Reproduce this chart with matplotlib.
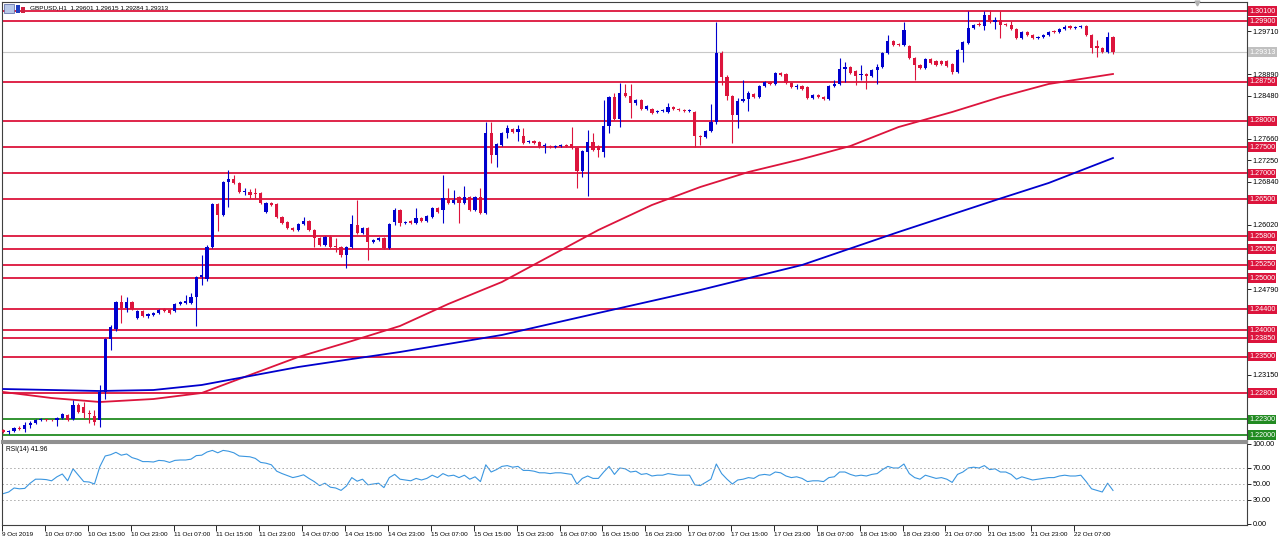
import numpy as np
import matplotlib.pyplot as plt
from matplotlib.transforms import blended_transform_factory

plt.rcParams['font.family'] = ['Liberation Sans', 'DejaVu Sans']

# GBPUSD H1, 9 Oct 23:00 .. 22 Oct 13:00 (server time)
opens = [
    1.2210, 1.2206, 1.2208, 1.2213, 1.2212, 1.2219, 1.2223, 1.2229, 1.2230, 1.2229,
    1.2228, 1.2232, 1.2239, 1.2231, 1.2257, 1.2254, 1.2242, 1.2236, 1.2229, 1.2282,
    1.2384, 1.2402, 1.2454, 1.2443, 1.2454, 1.2424, 1.2437, 1.2427, 1.2429, 1.2433,
    1.2441, 1.2439, 1.2437, 1.2450, 1.2452, 1.2452, 1.2464, 1.2502, 1.2498, 1.2559,
    1.2641, 1.2620, 1.2683, 1.2689, 1.2681, 1.2664, 1.2664, 1.2662, 1.2662, 1.2626,
    1.2643, 1.2641, 1.2617, 1.2607, 1.2595, 1.2592, 1.2603, 1.2609, 1.2592, 1.2576,
    1.2563, 1.2578, 1.2561, 1.2559, 1.2544, 1.2559, 1.2601, 1.2586, 1.2595, 1.2569,
    1.2573, 1.2576, 1.2557, 1.2607, 1.2630, 1.2605, 1.2609, 1.2605, 1.2615, 1.2609,
    1.2617, 1.2634, 1.2630, 1.2653, 1.2643, 1.2655, 1.2643, 1.2655, 1.2630, 1.2655,
    1.2624, 1.2777, 1.2735, 1.2754, 1.2777, 1.2785, 1.2779, 1.2771, 1.2760, 1.2762,
    1.2760, 1.2752, 1.2752, 1.2750, 1.2752, 1.2754, 1.2756, 1.2748, 1.2704, 1.2741,
    1.2760, 1.2752, 1.2741, 1.2790, 1.2846, 1.2804, 1.2853, 1.2848, 1.2834, 1.2840,
    1.2823, 1.2823, 1.2817, 1.2819, 1.2817, 1.2827, 1.2823, 1.2821, 1.2819, 1.2817,
    1.2771, 1.2769, 1.2781, 1.2798, 1.2930, 1.2884, 1.2848, 1.2811, 1.2838, 1.2842,
    1.2851, 1.2846, 1.2867, 1.2874, 1.2871, 1.2892, 1.2890, 1.2872, 1.2865, 1.2867,
    1.2865, 1.2844, 1.2849, 1.2846, 1.2842, 1.2867, 1.2871, 1.2900, 1.2903, 1.2895,
    1.2888, 1.2890, 1.2886, 1.2897, 1.2903, 1.2930, 1.2953, 1.2947, 1.2945, 1.2943,
    1.2920, 1.2907, 1.2901, 1.2918, 1.2915, 1.2915, 1.2915, 1.2909, 1.2893, 1.2936,
    1.2949, 1.2978, 1.2985, 1.2981, 1.3002, 1.2989, 1.2993, 1.2985, 1.2983, 1.2976,
    1.2958, 1.2970, 1.2964, 1.2958, 1.2960, 1.2964, 1.2972, 1.2970, 1.2976, 1.2981,
    1.2978, 1.2979, 1.2981, 1.2964, 1.2943, 1.2939, 1.2932, 1.29601]
highs = [
    1.2212, 1.2210, 1.2215, 1.2217, 1.2225, 1.2227, 1.2231, 1.2232, 1.2231, 1.2230,
    1.2235, 1.2243, 1.2241, 1.2267, 1.2261, 1.2263, 1.2248, 1.2248, 1.2296, 1.2386,
    1.2411, 1.2456, 1.2468, 1.2464, 1.2456, 1.2438, 1.2439, 1.2434, 1.2435, 1.2441,
    1.2443, 1.2441, 1.2452, 1.2456, 1.2467, 1.2471, 1.2504, 1.2544, 1.2563, 1.2643,
    1.2643, 1.2685, 1.2706, 1.2697, 1.2683, 1.2672, 1.2670, 1.2672, 1.2664, 1.2645,
    1.2645, 1.2643, 1.2619, 1.2609, 1.2597, 1.2605, 1.2617, 1.2611, 1.2594, 1.2578,
    1.2580, 1.2582, 1.2576, 1.2561, 1.2561, 1.2620, 1.2649, 1.2597, 1.2597, 1.2575,
    1.2578, 1.2578, 1.2605, 1.2634, 1.2632, 1.2609, 1.2611, 1.2634, 1.2617, 1.2620,
    1.2636, 1.2636, 1.2697, 1.2672, 1.2668, 1.2657, 1.2676, 1.2657, 1.2657, 1.2672,
    1.2798, 1.2798, 1.2758, 1.2779, 1.2792, 1.2787, 1.2792, 1.2786, 1.2764, 1.2764,
    1.2762, 1.2758, 1.2754, 1.2754, 1.2756, 1.2756, 1.2788, 1.2750, 1.2745, 1.2783,
    1.2777, 1.2754, 1.2840, 1.2848, 1.2853, 1.2872, 1.2871, 1.2871, 1.2842, 1.2842,
    1.2831, 1.2825, 1.2821, 1.2823, 1.2834, 1.2829, 1.2825, 1.2823, 1.2823, 1.2819,
    1.2773, 1.2783, 1.2832, 1.2989, 1.2934, 1.2888, 1.2850, 1.2844, 1.2878, 1.2857,
    1.2853, 1.2869, 1.2876, 1.2876, 1.2894, 1.2894, 1.2892, 1.2874, 1.2871, 1.2869,
    1.2867, 1.2851, 1.2851, 1.2848, 1.2869, 1.2878, 1.2920, 1.2913, 1.2905, 1.2897,
    1.2907, 1.2892, 1.2899, 1.2909, 1.2932, 1.2964, 1.2955, 1.2949, 1.2989, 1.2945,
    1.2922, 1.2909, 1.2920, 1.2920, 1.2917, 1.2917, 1.2917, 1.2911, 1.2938, 1.2953,
    1.3010, 1.2985, 1.2989, 1.3010, 1.3012, 1.2999, 1.3010, 1.2987, 1.2991, 1.2978,
    1.2972, 1.2972, 1.2966, 1.2962, 1.2966, 1.2972, 1.2974, 1.2978, 1.2983, 1.2983,
    1.2981, 1.2983, 1.2983, 1.2966, 1.2955, 1.2941, 1.2970, 1.29615]
lows = [
    1.2204, 1.2202, 1.2206, 1.2210, 1.2206, 1.2214, 1.2222, 1.2227, 1.2226, 1.2226,
    1.2218, 1.2230, 1.2227, 1.2229, 1.2242, 1.2232, 1.2223, 1.2219, 1.2215, 1.2269,
    1.2362, 1.2398, 1.2414, 1.2435, 1.2439, 1.2422, 1.2425, 1.2424, 1.2427, 1.2431,
    1.2435, 1.2431, 1.2435, 1.2448, 1.2450, 1.2450, 1.2408, 1.2487, 1.2494, 1.2557,
    1.2590, 1.2618, 1.2636, 1.2679, 1.2662, 1.2659, 1.2653, 1.2653, 1.2641, 1.2624,
    1.2637, 1.2615, 1.2603, 1.2593, 1.2590, 1.2590, 1.2601, 1.2590, 1.2559, 1.2561,
    1.2561, 1.2557, 1.2550, 1.2540, 1.2519, 1.2557, 1.2584, 1.2584, 1.2534, 1.2567,
    1.2571, 1.2555, 1.2555, 1.2601, 1.2599, 1.2603, 1.2603, 1.2603, 1.2607, 1.2607,
    1.2615, 1.2624, 1.2605, 1.2641, 1.2641, 1.2605, 1.2641, 1.2628, 1.2628, 1.2622,
    1.2622, 1.2720, 1.2712, 1.2752, 1.2767, 1.2777, 1.2762, 1.2756, 1.2758, 1.2756,
    1.2748, 1.2739, 1.2748, 1.2748, 1.2750, 1.2750, 1.2746, 1.2672, 1.2693, 1.2657,
    1.2743, 1.2731, 1.2731, 1.2777, 1.2802, 1.2788, 1.2846, 1.2806, 1.2830, 1.2821,
    1.2821, 1.2813, 1.2815, 1.2817, 1.2815, 1.2821, 1.2819, 1.2817, 1.2817, 1.2750,
    1.2754, 1.2767, 1.2779, 1.2794, 1.2869, 1.2840, 1.2758, 1.2787, 1.2836, 1.2819,
    1.2844, 1.2844, 1.2865, 1.2869, 1.2869, 1.2886, 1.2870, 1.2863, 1.2861, 1.2859,
    1.2842, 1.2842, 1.2844, 1.2840, 1.2840, 1.2865, 1.2869, 1.2874, 1.2890, 1.2869,
    1.2878, 1.2861, 1.2884, 1.2871, 1.2901, 1.2928, 1.2943, 1.2943, 1.2943, 1.2918,
    1.2878, 1.2899, 1.2899, 1.2909, 1.2905, 1.2907, 1.2903, 1.2890, 1.2891, 1.2913,
    1.2947, 1.2976, 1.2981, 1.2974, 1.2987, 1.2976, 1.2958, 1.2981, 1.2974, 1.2956,
    1.2956, 1.2962, 1.2956, 1.2956, 1.2958, 1.2962, 1.2968, 1.2968, 1.2974, 1.2976,
    1.2976, 1.2977, 1.2962, 1.2930, 1.2922, 1.2930, 1.2930, 1.29284]
closes = [
    1.2206, 1.2208, 1.2213, 1.2212, 1.2219, 1.2223, 1.2229, 1.2230, 1.2228, 1.2228,
    1.2233, 1.2240, 1.2229, 1.2257, 1.2244, 1.2242, 1.2240, 1.2225, 1.2282, 1.2384,
    1.2406, 1.2454, 1.2443, 1.2454, 1.2441, 1.2437, 1.2427, 1.2431, 1.2433, 1.2439,
    1.2437, 1.2433, 1.2450, 1.2454, 1.2456, 1.2464, 1.2502, 1.2506, 1.2559, 1.2641,
    1.2620, 1.2683, 1.2689, 1.2681, 1.2664, 1.2666, 1.2659, 1.2660, 1.2643, 1.2643,
    1.2639, 1.2617, 1.2605, 1.2595, 1.2592, 1.2603, 1.2609, 1.2592, 1.2576, 1.2563,
    1.2578, 1.2559, 1.2559, 1.2544, 1.2559, 1.2603, 1.2586, 1.2595, 1.2569, 1.2573,
    1.2576, 1.2557, 1.2603, 1.2630, 1.2605, 1.2607, 1.2605, 1.2615, 1.2609, 1.2618,
    1.2634, 1.2626, 1.2653, 1.2643, 1.2649, 1.2643, 1.2655, 1.2630, 1.2655, 1.2624,
    1.2777, 1.2735, 1.2756, 1.2777, 1.2786, 1.2779, 1.2785, 1.2758, 1.2762, 1.2758,
    1.2750, 1.2754, 1.2750, 1.2752, 1.2754, 1.2752, 1.2748, 1.2704, 1.2743, 1.2760,
    1.2745, 1.2745, 1.2790, 1.2846, 1.2804, 1.2853, 1.2848, 1.2834, 1.2840, 1.2823,
    1.2829, 1.2815, 1.2819, 1.2821, 1.2827, 1.2823, 1.2821, 1.2819, 1.2821, 1.2771,
    1.2769, 1.2781, 1.2798, 1.2930, 1.2884, 1.2848, 1.2811, 1.2838, 1.2842, 1.2853,
    1.2846, 1.2867, 1.2874, 1.2871, 1.2892, 1.2888, 1.2872, 1.2865, 1.2867, 1.2861,
    1.2844, 1.2849, 1.2846, 1.2842, 1.2867, 1.2871, 1.2900, 1.2903, 1.2892, 1.2886,
    1.2890, 1.2886, 1.2897, 1.2903, 1.2930, 1.2953, 1.2945, 1.2945, 1.2974, 1.2920,
    1.2907, 1.2901, 1.2918, 1.2911, 1.2907, 1.2909, 1.2905, 1.2893, 1.2936, 1.2951,
    1.2978, 1.2983, 1.2983, 1.3002, 1.2989, 1.2993, 1.2983, 1.2983, 1.2976, 1.2958,
    1.2970, 1.2964, 1.2958, 1.2960, 1.2964, 1.2970, 1.2970, 1.2976, 1.2979, 1.2978,
    1.2979, 1.2981, 1.2964, 1.2939, 1.2939, 1.2932, 1.2960, 1.29313]

rsi = [
    38, 40, 45, 44, 44.5, 51, 56, 56, 55.5, 54,
    59, 62.5, 54, 69, 61, 53, 52.5, 50, 71.7, 85,
    86.6, 89.6, 86, 87.5, 83, 81, 78, 78, 77.5, 79.5,
    79, 77, 79.5, 80, 80, 81, 85.5, 86, 90, 92,
    89, 92, 91, 89, 85, 84.5, 84, 82, 77, 76,
    74, 66, 63, 60.5, 58, 59.5, 61.5, 57, 53, 48,
    51, 46, 45, 42, 47.5, 58, 53.5, 56, 49, 50,
    51, 45.5, 58, 62, 56, 55, 54, 57, 55, 57,
    61, 58, 63, 60, 61, 58, 61, 56, 59, 53,
    74, 65, 68, 72, 73, 71, 72, 67, 67, 66,
    64, 64, 63, 64, 64, 63, 62, 50, 57, 60,
    57, 57, 65, 72, 62, 70, 69, 65, 66, 62,
    63, 60, 61, 61, 63, 62, 61, 61, 61, 49,
    48, 52, 56, 75, 63, 56, 50, 55, 56, 58,
    57, 61, 62, 61, 65, 64, 60, 58, 59, 57,
    53, 54, 54, 53, 58, 59, 65, 65, 62, 60,
    61, 60, 62, 63, 68, 72, 70, 70, 75, 63,
    58, 56, 61, 59, 57, 58, 56, 52, 62, 65,
    70, 71, 70, 73, 68, 69, 65, 65, 62, 56,
    59, 57, 55, 56, 57, 58, 58, 60, 61, 60,
    60, 61, 53, 44, 42, 40, 51, 41.96]

# moving averages at a number of bars
ma_red_bar = [0, 9, 18, 28, 37, 46, 55, 65, 74, 83, 93, 102, 111, 121, 130, 139, 149, 158,
              167, 177, 186, 195, 207]
ma_red_val = [1.22823, 1.22708, 1.22632, 1.22689, 1.22804, 1.23148, 1.23491, 1.23797, 1.24084,
              1.24504, 1.24924, 1.25420, 1.25917, 1.26395, 1.26738, 1.27025, 1.27273, 1.27521,
              1.27884, 1.28171, 1.28457, 1.28706, 1.28897]
ma_blue_bar = [0, 18, 28, 37, 46, 55, 65, 74, 93, 111, 130, 149, 167, 186, 195, 207]
ma_blue_val = [1.22880, 1.22842, 1.22861, 1.22957, 1.23128, 1.23300, 1.23453, 1.23587, 1.23912,
               1.24332, 1.24771, 1.25249, 1.25879, 1.26519, 1.26815, 1.27292]

red_levels = [1.30100, 1.29900, 1.28750, 1.28000, 1.27500, 1.27000, 1.26500, 1.25800,
              1.25550, 1.25250, 1.25000, 1.24400, 1.24000, 1.23850, 1.23500, 1.22800]
green_levels = [1.22300, 1.22000]
last_price = 1.29313

price_ticks = [1.29710, 1.29300, 1.28890, 1.28480, 1.28070, 1.27660, 1.27250, 1.26840, 1.26430,
               1.26020, 1.25610, 1.25200, 1.24790, 1.24380, 1.23970, 1.23560, 1.23150, 1.22740, 1.22330]

time_labels = ['9 Oct 2019', '10 Oct 07:00', '10 Oct 15:00', '10 Oct 23:00', '11 Oct 07:00',
               '11 Oct 15:00', '11 Oct 23:00', '14 Oct 07:00', '14 Oct 15:00', '14 Oct 23:00',
               '15 Oct 07:00', '15 Oct 15:00', '15 Oct 23:00', '16 Oct 07:00', '16 Oct 15:00',
               '16 Oct 23:00', '17 Oct 07:00', '17 Oct 15:00', '17 Oct 23:00', '18 Oct 07:00',
               '18 Oct 15:00', '18 Oct 23:00', '21 Oct 07:00', '21 Oct 15:00', '21 Oct 23:00',
               '22 Oct 07:00']

BULL = '#0000CD'
BEAR = '#DC143C'
GREEN = '#228B22'
W, H = 1280, 539

fig = plt.figure(figsize=(W / 100, H / 100), dpi=100)
ax = fig.add_axes([2 / W, 1 - 441 / H, 1245 / W, 439 / H])
ax2 = fig.add_axes([2 / W, 1 - 525 / H, 1245 / W, 82 / H], sharex=ax)

o = np.array(opens)
h = np.array(highs)
l = np.array(lows)
c = np.array(closes)
idx = np.arange(len(c))
colors = np.where(c >= o, BULL, BEAR)

# candles
ax.vlines(idx, l, h, colors=colors, lw=0.8, zorder=4)
ax.bar(idx, np.maximum(np.abs(c - o), 0.00006), bottom=np.minimum(o, c), width=0.6,
       color=colors, lw=0, zorder=5)

# horizontal levels
for lv in red_levels:
    ax.axhline(lv, color=BEAR, lw=1.3, zorder=2)
for lv in green_levels:
    ax.axhline(lv, color=GREEN, lw=1.3, zorder=2)
ax.axhline(last_price, color='#C8C8C8', lw=0.8, zorder=1)

# moving averages
ax.plot(ma_red_bar, ma_red_val, color=BEAR, lw=1.3, zorder=3)
ax.plot(ma_blue_bar, ma_blue_val, color=BULL, lw=1.3, zorder=3)

ax.set_xlim(-0.13, 232)
ax.set_ylim(1.21887, 1.30272)

# price scale: labels hidden under the marked levels are left blank
marked = red_levels + green_levels + [last_price]
ax.yaxis.tick_right()
ax.set_yticks(price_ticks)
ax.set_yticklabels(['' if min(abs(t - m) for m in marked) < 0.0009 else '%.5f' % t
                    for t in price_ticks])
ax.tick_params(axis='y', labelsize=5.2, length=3, width=0.6, pad=1)
ax.tick_params(axis='x', bottom=False, labelbottom=False)

tr = blended_transform_factory(fig.transFigure, ax.transData)
for lv, fc in [(v, BEAR) for v in red_levels] + [(v, GREEN) for v in green_levels] + \
        [(last_price, '#C0C0C0')]:
    ax.text(1249 / W, lv, '%.5f' % lv, transform=tr, fontsize=5.2, color='white', va='center',
            ha='left', clip_on=False, zorder=10,
            bbox=dict(boxstyle='square,pad=0.18', fc=fc, ec='none'))

for s in ax.spines.values():
    s.set_color('#404040')
    s.set_linewidth(0.8)
ax.spines['bottom'].set_color('#909090')
ax.spines['bottom'].set_linewidth(1.5)

# header line with the small window icons
fig.text(30 / W, 1 - 8 / H, 'GBPUSD,H1  1.29601 1.29615 1.29284 1.29313', fontsize=4.6,
         va='center', ha='left', zorder=11)
fig.patches.append(plt.Rectangle((4 / W, 1 - 13 / H), 10 / W, 9 / H, transform=fig.transFigure,
                                 fc='#B8C8E8', ec='#5060A0', lw=0.5))
fig.patches.append(plt.Rectangle((16 / W, 1 - 13 / H), 4 / W, 8 / H, transform=fig.transFigure,
                                 fc='#2040C0', ec='none'))
fig.patches.append(plt.Rectangle((21 / W, 1 - 13 / H), 4 / W, 6 / H, transform=fig.transFigure,
                                 fc='#D02040', ec='none'))
ax.plot([(1197 - 2) / 1245], [0.997], marker='v', color='#B0B0B0', ms=3.5,
        transform=ax.transAxes, clip_on=False, zorder=12)

# RSI window
ax2.plot(idx, rsi, color='#3A96E0', lw=0.8)
for lv in (30, 50, 70):
    ax2.axhline(lv, color='#A8A8A8', lw=0.7, ls=(0, (1.5, 2.5)))
ax2.set_ylim(-1.25, 101.25)
ax2.yaxis.tick_right()
ax2.set_yticks([0, 30, 50, 70, 100])
ax2.set_yticklabels(['0.00', '30.00', '50.00', '70.00', '100.00'])
ax2.tick_params(axis='y', labelsize=5.2, length=3, width=0.6, pad=1)
ax2.text(0.003, 0.965, 'RSI(14) 41.96', transform=ax2.transAxes, fontsize=4.8, va='top', ha='left')
for s in ax2.spines.values():
    s.set_color('#404040')
    s.set_linewidth(0.8)
ax2.spines['top'].set_color('#909090')
ax2.spines['top'].set_linewidth(1.5)

tick_bars = [8 * k - 0.25 for k in range(len(time_labels))]
ax2.set_xticks(tick_bars)
ax2.set_xticklabels(time_labels)
ax2.tick_params(axis='x', labelsize=4.6, length=4, width=0.6, pad=1)
for lab in ax2.get_xticklabels():
    lab.set_horizontalalignment('left')

fig.savefig('out.png', dpi=100, facecolor='white')
